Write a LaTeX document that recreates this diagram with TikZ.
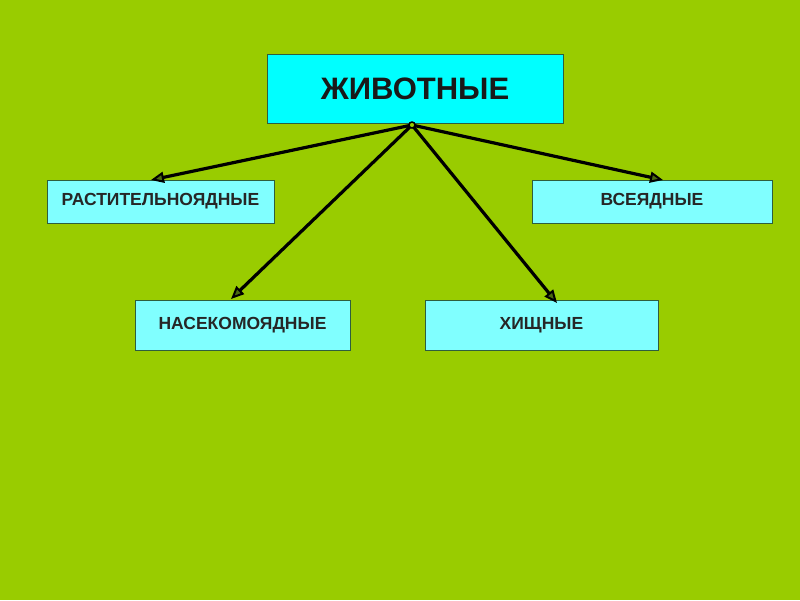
\documentclass[tikz,border=0pt]{standalone}
\usepackage{fontspec}
\setmainfont{Liberation Sans}
\usetikzlibrary{arrows.meta}
\definecolor{bg}{HTML}{99CC00}
\definecolor{topfill}{HTML}{00FFFF}
\definecolor{boxfill}{HTML}{80FFFF}
\definecolor{boxline}{HTML}{2E5E3E}
\definecolor{tipfill}{HTML}{4A6A10}
\tikzset{
  topbox/.style={draw=boxline, line width=1pt, fill=topfill, minimum width=296pt, minimum height=69pt, inner sep=0pt, font=\fontsize{31}{31}\selectfont\bfseries, text=black!90},
  catbox/.style={draw=boxline, line width=1pt, fill=boxfill, inner sep=0pt, font=\fontsize{17.5}{17.5}\selectfont\bfseries, text=black!85},
  link/.style={line width=3.2pt, -{Triangle[open, length=13pt, width=11pt, fill=tipfill, line width=2pt]}},
}
\begin{document}
\begin{tikzpicture}[x=1pt, y=-1pt]
\fill[bg] (0,0) rectangle (800,600);
\useasboundingbox (0,0) rectangle (800,600);
\node[topbox] (top) at (415,88.5) {ЖИВОТНЫЕ};
\node[catbox, minimum width=227pt, minimum height=43pt] (herb) at (160.5,201.5) {\raisebox{-1pt}{РАСТИТЕЛЬНОЯДНЫЕ}};
\node[catbox, minimum width=240pt, minimum height=43pt] (omni) at (652,201.5) {\raisebox{-1pt}{ВСЕЯДНЫЕ}};
\node[catbox, minimum width=215pt, minimum height=50pt] (insect) at (242.5,325) {НАСЕКОМОЯДНЫЕ};
\node[catbox, minimum width=233pt, minimum height=50pt] (pred) at (541.5,325) {ХИЩНЫЕ};
\coordinate (o) at (412,125);
\coordinate (tA) at (151,180);
\coordinate (tB) at (663,180);
\coordinate (tC) at (231,299);
\coordinate (tD) at (557,303);
\draw[link] (o) -- (tA);
\draw[link] (o) -- (tB);
\draw[link] (o) -- (tC);
\draw[link] (o) -- (tD);
\draw[line width=1.5pt, fill=bg] (o) circle (3pt);
\end{tikzpicture}
\end{document}
